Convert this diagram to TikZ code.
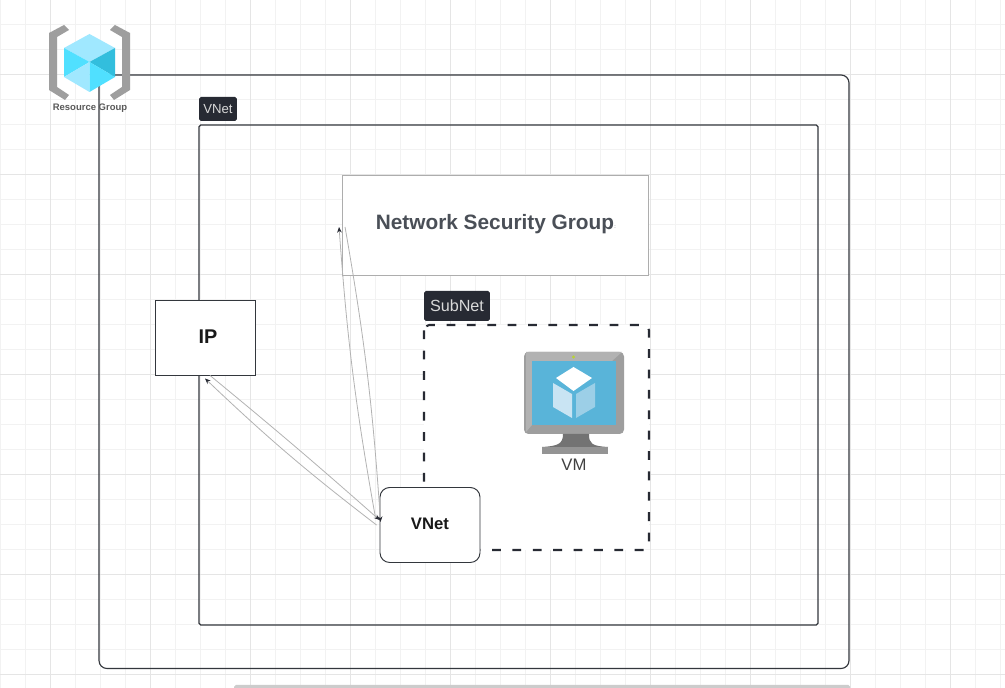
\documentclass[tikz,border=0pt]{standalone}
\usepackage{fontspec}
\setmainfont{Liberation Sans}
\usetikzlibrary{arrows.meta}
\definecolor{tagdark}{HTML}{272A33}
\definecolor{linedark}{HTML}{33373D}
\definecolor{textgray}{HTML}{4A4F57}
\definecolor{iconcube}{HTML}{50E0FF}
\definecolor{iconlight}{HTML}{A0E8FF}
\definecolor{icondark}{HTML}{32BEDD}
\definecolor{vmscreen}{HTML}{59B4D9}
\definecolor{vmled}{HTML}{B8D432}
\definecolor{vmleft}{HTML}{C9E4F3}
\definecolor{vmright}{HTML}{9CCFE7}
\tikzset{
  box/.style = {draw = linedark, fill = white, line width = 0.55pt, inner sep = 0pt},
  tagbox/.style = {fill = tagdark, text = white!85!black, rounded corners = 1pt, inner sep = 0pt},
  link/.style = {draw = black!30, line width = 0.45pt},
  tip/.style = {-{Stealth[length = 3.2pt, width = 2.6pt, color = tagdark]}}
}
\begin{document}
\begin{tikzpicture} [x = 0.02cm, y = -0.02cm]
\useasboundingbox (0, 0) rectangle (1005, 688);
\fill[white] (0, 0) rectangle (1005, 688);
% grid
\foreach \gx in {0, 25, ..., 1000} \draw[black!5, line width = 0.5pt] (\gx, 0) -- (\gx, 688);
\foreach \gy in {-0.5, 24.5, ..., 680} \draw[black!5, line width = 0.5pt] (0, \gy) -- (1005, \gy);
\foreach \gx in {50, 150, ..., 950} \draw[black!10, line width = 0.5pt] (\gx, 0) -- (\gx, 688);
\foreach \gy in {74.5, 174.5, ..., 680} \draw[black!10, line width = 0.5pt] (0, \gy) -- (1005, \gy);
% scroll bar
\fill[black!20, rounded corners = 1pt] (234, 685) rectangle (850, 690);
% containers
\draw[linedark, line width = 0.65pt, rounded corners = 4.5pt] (99, 75) rectangle (849, 668.5);
\draw[linedark, line width = 0.65pt, rounded corners = 1pt] (199, 125) rectangle (818, 625);
\draw[tagdark, fill = white, line width = 1.2pt, dash pattern = on 5pt off 6.6pt, rounded corners = 3pt] (424, 325) rectangle (649, 550);
% resource group icon
\fill[black!38] (49, 33) -- (64, 25) -- (69, 30) -- (57, 37) -- (57, 87) -- (69, 95) -- (65, 100) -- (49, 90) -- cycle;
\fill[black!38] (130, 33) -- (115, 25) -- (110, 30) -- (122, 37) -- (122, 87) -- (110, 95) -- (114, 100) -- (130, 90) -- cycle;
\fill[iconlight] (89.5, 34) -- (115, 48) -- (89.5, 62) -- (64, 48) -- cycle;
\fill[iconcube] (64, 48) -- (89.5, 62) -- (64, 77) -- cycle;
\fill[icondark] (115, 48) -- (89.5, 62) -- (115, 77) -- cycle;
\fill[iconlight] (64, 77) -- (89.5, 62) -- (89.5, 92) -- cycle;
\fill[iconcube] (115, 77) -- (89.5, 62) -- (89.5, 92) -- cycle;
% vm icon
\fill[black!38, rounded corners = 2.5pt] (524, 352) rectangle (624, 434);
\fill[black!30] (526, 352) -- (622, 352) -- (612, 361) -- (532, 361) -- (532, 425) -- (526, 432) -- cycle;
\fill[black!55] (563, 434) -- (589, 434) .. controls (589, 444) and (592, 446) .. (608, 447) -- (542, 447) .. controls (558, 446) and (563, 444) .. (563, 434);
\fill[black!42] (542, 447) rectangle (608, 454);
\fill[vmscreen] (532, 361) rectangle (616, 425);
\fill[vmled] (573.5, 357) circle [radius = 1.6];
\fill[white] (573.5, 367) -- (592, 378) -- (573.5, 391) -- (556, 378) -- cycle;
\fill[vmleft] (553, 383) -- (572, 394) -- (572, 418) -- (553, 407) -- cycle;
\fill[vmright] (576, 394) -- (595, 383) -- (595, 407) -- (576, 418) -- cycle;
% nodes
\node[box, draw = black!32, minimum width = 6.12cm, minimum height = 2cm] (nsg) at (495.5, 225) {};
\node[box, minimum width = 2cm, minimum height = 1.5cm] (ip) at (205, 337.5) {};
\node[box, rounded corners = 5.5pt, minimum width = 2cm, minimum height = 1.5cm] (vnetbox) at (430, 525) {};
\node[text = textgray, font = \bfseries\fontsize{11.85}{14}\selectfont] (nsglabel) at (495, 224.5) {Network Security Group};
\node[text = textgray, font = \fontsize{3}{4}\selectfont] (nsgmark) at (615, 227) {:};
\node[text = black!90, font = \bfseries\fontsize{11.3}{13}\selectfont] (iplabel) at (208, 337) {IP};
\node[text = black!90, font = \bfseries\fontsize{9.5}{11}\selectfont] (vnetlabel) at (430, 524) {VNet};
\node[tagbox, minimum width = 0.76cm, minimum height = 0.48cm, font = \fontsize{7.5}{9}\selectfont] (vnettag) at (218, 109) {VNet};
\node[tagbox, minimum width = 1.32cm, minimum height = 0.6cm, font = \fontsize{9.2}{11}\selectfont] (subnettag) at (457, 306) {SubNet};
\node[text = black!65, font = \bfseries\fontsize{5.4}{7}\selectfont] (rglabel) at (90, 108.5) {Resource Group};
\node[text = black!75, font = \fontsize{9.5}{11}\selectfont] (vmlabel) at (574, 465) {VM};
% links
\coordinate (ipin) at ([yshift = -3 * 0.02cm]ip.south);
\coordinate (vnetlow) at ([xshift = -3 * 0.02cm]vnetbox.west);
\coordinate (ipout) at ([xshift = 5 * 0.02cm]ip.south);
\coordinate (vnetin) at ([yshift = 5 * 0.02cm]vnetbox.west);
\coordinate (nsgin) at ([xshift = -3 * 0.02cm, yshift = -2 * 0.02cm]nsg.west);
\coordinate (nsgout) at ([xshift = 3 * 0.02cm, yshift = -2 * 0.02cm]nsg.west);
\coordinate (vnetup) at ([xshift = -4 * 0.02cm, yshift = 7 * 0.02cm]vnetbox.west);
\coordinate (vnetsink) at ([xshift = 1 * 0.02cm, yshift = 3 * 0.02cm]vnetbox.west);
\draw[link, tip] (vnetlow) to[bend left = 3] (ipin);
\draw[link, tip] (ipout) to[bend left = 1] (vnetin);
\draw[link, tip] (vnetup) to[bend left = 3] (nsgin);
\draw[link, tip] (nsgout) to[bend left = 3] (vnetsink);
\end{tikzpicture}
\end{document}
